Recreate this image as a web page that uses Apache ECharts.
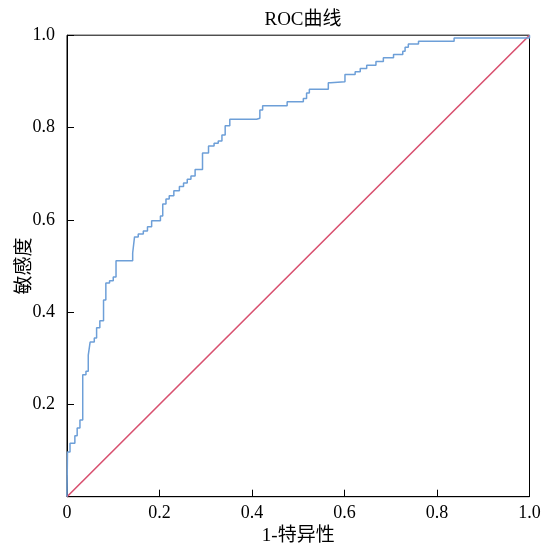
<!DOCTYPE html>
<html>
<head>
<meta charset="utf-8">
<script src="https://cdn.jsdelivr.net/npm/echarts@6/dist/echarts.min.js"></script>
<style>html,body{margin:0;padding:0;background:#fff}#c{width:544px;height:545px}</style>
</head>
<body>
<div id="c"></div>
<script>
var chartTitle = 'ROC曲线';
var xAxisName = '1-特异性';
var yAxisName = '敏感度';
// ROC points (1-specificity, sensitivity)
var fpr = [0,0.001,0.0065,0.017,0.022,0.028,0.034,0.041,0.046,0.050,0.059,0.064,0.071,0.079,0.084,0.092,0.100,0.106,0.142,0.146,0.154,0.165,0.174,0.183,0.202,0.207,0.214,0.221,0.231,0.243,0.252,0.260,0.268,0.277,0.293,0.306,0.318,0.327,0.335,0.342,0.352,0.410,0.417,0.423,0.476,0.511,0.518,0.524,0.565,0.570,0.601,0.623,0.634,0.648,0.668,0.684,0.706,0.726,0.731,0.738,0.760,0.837,1.0];
var tpr = [0,0.097,0.116,0.132,0.149,0.166,0.264,0.272,0.307,0.335,0.344,0.366,0.381,0.426,0.463,0.468,0.476,0.511,0.528,0.563,0.569,0.576,0.585,0.598,0.608,0.634,0.645,0.652,0.663,0.672,0.680,0.688,0.695,0.709,0.745,0.760,0.766,0.771,0.784,0.804,0.818,0.820,0.838,0.847,0.856,0.863,0.875,0.883,0.897,0.899,0.915,0.921,0.928,0.935,0.943,0.951,0.958,0.965,0.974,0.981,0.987,0.994,1.0];
// reference diagonal
var diagX = [0, 1];
var diagY = [0, 1];

var rocData = fpr.map(function(x, i){ return [x, tpr[i]]; });
var diagData = diagX.map(function(x, i){ return [x, diagY[i]]; });

var font = '"Liberation Serif", "Times New Roman", "Noto Sans CJK SC", serif';
var chart = echarts.init(document.getElementById('c'), null, {renderer: 'canvas'});
chart.setOption({
  animation: false,
  backgroundColor: '#fff',
  title: {
    text: chartTitle, left: 298, top: 6, textAlign: 'center',
    textStyle: {fontFamily: font, fontSize: 19, fontWeight: 'normal', color: '#000'}
  },
  grid: {left: 67, right: 14.5, top: 35.2, bottom: 48.3, containLabel: false, outerBoundsMode: 'none',
    show: true, borderColor: '#000', borderWidth: 1, backgroundColor: 'transparent'},
  xAxis: {
    type: 'value', min: 0, max: 1, interval: 0.2,
    name: xAxisName, nameLocation: 'middle', nameGap: 30, nameMoveOverlap: false,
    nameTextStyle: {fontFamily: font, fontSize: 19, color: '#000'},
    axisLine: {show: true, lineStyle: {color: '#000', width: 1}},
    axisTick: {show: true, inside: true, length: 7, lineStyle: {color: '#000'}},
    axisLabel: {fontFamily: font, fontSize: 18, color: '#000', margin: 8,
      formatter: function(v){ return v === 0 ? '0' : v.toFixed(1); }},
    splitLine: {show: false}
  },
  yAxis: {
    type: 'value', min: 0, max: 1, interval: 0.2,
    name: yAxisName, nameLocation: 'middle', nameGap: 32, nameMoveOverlap: false,
    nameTextStyle: {fontFamily: font, fontSize: 19, color: '#000'},
    axisLine: {show: true, lineStyle: {color: '#000', width: 1}},
    axisTick: {show: true, inside: true, length: 7, lineStyle: {color: '#000'}},
    axisLabel: {fontFamily: font, fontSize: 18, color: '#000', margin: 12,
      formatter: function(v){ return v === 0 ? '' : v.toFixed(1); }},
    splitLine: {show: false}
  },
  series: [
    {type: 'line', data: diagData, showSymbol: false, lineStyle: {color: '#d8506f', width: 1.6}, z: 2},
    {type: 'line', data: rocData, step: 'end', showSymbol: false, lineStyle: {color: '#6d9fd8', width: 1.5}, z: 3}
  ]
});
</script>
</body>
</html>
